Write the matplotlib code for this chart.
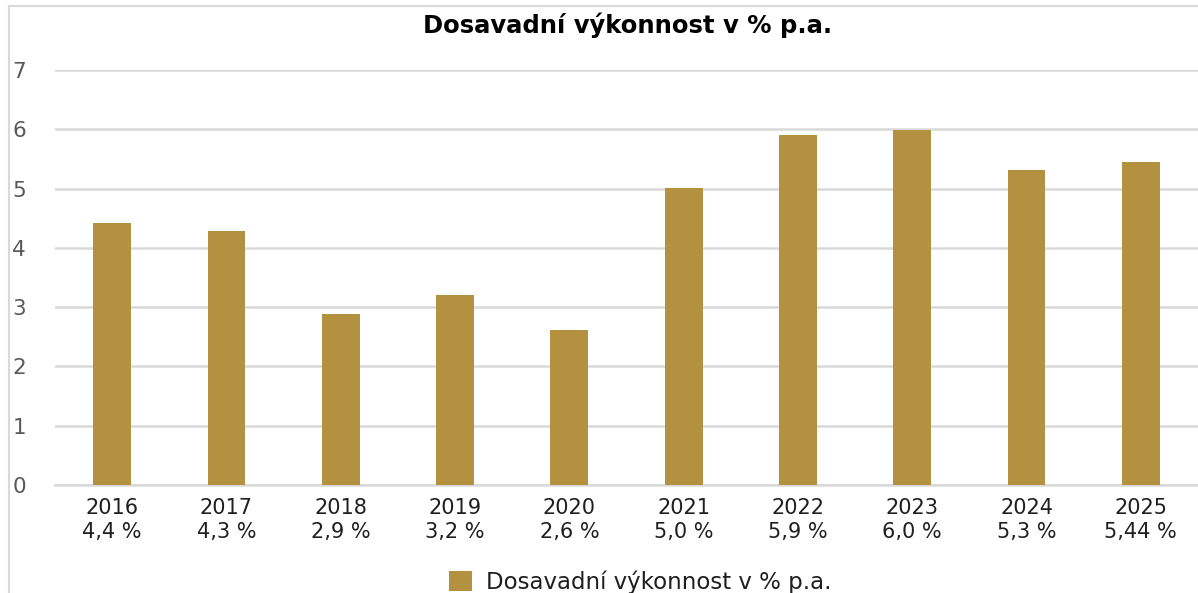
import matplotlib.pyplot as plt
from matplotlib.lines import Line2D

plt.rcParams['font.family'] = ['DejaVu Sans']

years = ['2016', '2017', '2018', '2019', '2020', '2021', '2022', '2023', '2024', '2025']
labels = ['4,4 %', '4,3 %', '2,9 %', '3,2 %', '2,6 %', '5,0 %', '5,9 %', '6,0 %', '5,3 %', '5,44 %']
values = [4.42, 4.28, 2.88, 3.2, 2.61, 5.01, 5.9, 5.99, 5.31, 5.44]

gold = '#b39140'
grid = '#d9d9d9'

fig = plt.figure(figsize=(11.98, 5.93), dpi=100)
ax = fig.add_axes([55 / 1198, 108 / 593, 1 - 55 / 1198, 415 / 593])

x = list(range(len(years)))
ax.bar(x, values, width=0.33, color=gold, zorder=3, label='Dosavadní výkonnost v % p.a.')

ax.set_xlim(-0.5, len(years) - 0.5)
ax.set_ylim(0, 7)
ax.set_yticks(range(8))
ax.yaxis.grid(True, color=grid, linewidth=1.8, zorder=0)
ax.axhline(0, color=grid, linewidth=1.8, zorder=1, clip_on=False)
ax.set_xticks(x)
ax.set_xticklabels([f'{y}\n{l}' for y, l in zip(years, labels)],
                   fontsize=15, color='#1f1f1f', linespacing=1.3)
ax.tick_params(axis='x', length=0, pad=9)
ax.tick_params(axis='y', length=0, pad=21, labelsize=15.5, labelcolor='#595959')
for s in ax.spines.values():
    s.set_visible(False)

# outer frame lines (chart area border)
fig.add_artist(Line2D([9 / 1198, 9 / 1198], [0, 1 - 6 / 593], color=grid, linewidth=1.5))
fig.add_artist(Line2D([9 / 1198, 1], [1 - 6 / 593, 1 - 6 / 593], color=grid, linewidth=1.5))

fig.text(628 / 1198, 1 - 25 / 593, 'Dosavadní výkonnost v % p.a.', ha='center', va='center',
         fontsize=17.5, fontweight='bold', color='black')

fig.legend(loc='center', bbox_to_anchor=(640 / 1198, 1 - 582 / 593), frameon=False,
           fontsize=16.5, handlelength=1.0, handleheight=1.0, handletextpad=0.6,
           labelcolor='#1f1f1f')

fig.savefig('out.png', dpi=100)
